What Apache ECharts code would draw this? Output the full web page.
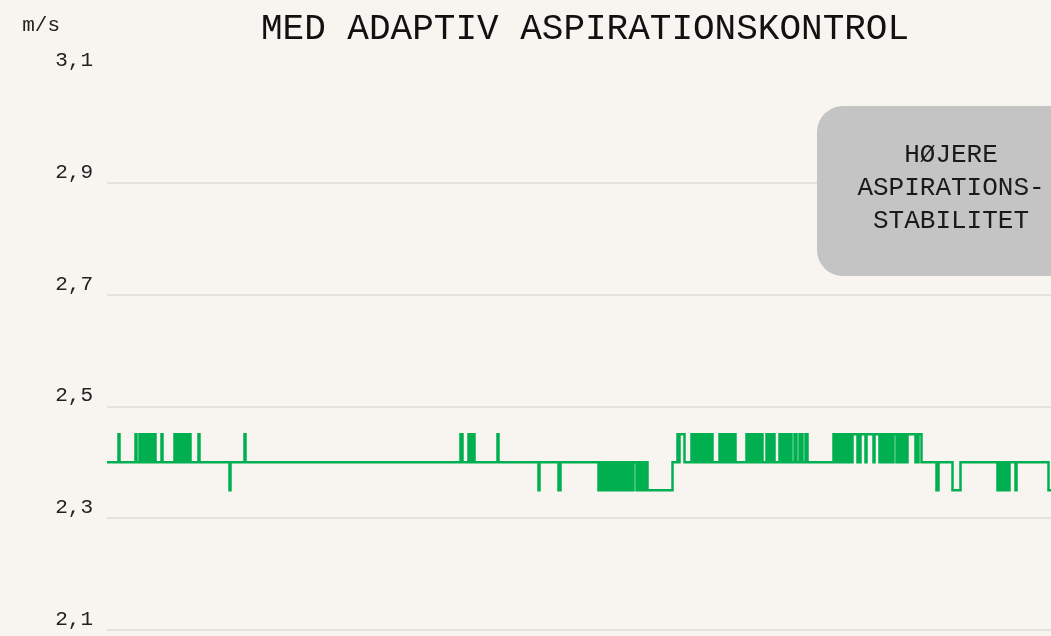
<!DOCTYPE html>
<html>
<head>
<meta charset="utf-8">
<title>Med adaptiv aspirationskontrol</title>
<script src="https://cdn.jsdelivr.net/npm/echarts@6/dist/echarts.min.js"></script>
<style>
  html, body { margin: 0; padding: 0; background: #f8f5f0; }
  #chart { width: 1051px; height: 636px; }
</style>
</head>
<body>
<div id="chart"></div>
<script>
// Aspiration air speed levels (m/s)
const B = 2.4, U = 2.45, D = 2.35;

const chartTitle = 'MED ADAPTIV ASPIRATIONSKONTROL';
const unitLabel = 'm/s';
const noteLines = ['HØJERE', 'ASPIRATIONS-', 'STABILITET'];

const yMin = 2.1, yMax = 3.1, yStep = 0.2;

// Measured air speed, one sample per step (45 samples per row)
const airSpeed = [
  B,B,B,B,B, B,B,B,B,B, B,B,U,B,B, B,B,B,B,B, B,B,B,B,B, B,B,B,B,U, B,B,B,U,B, U,B,U,B,U, B,U,B,U,B,
  U,B,U,U,B, B,B,B,B,B, U,B,B,B,B, B,B,B,B,B, B,B,B,U,B, U,B,U,B,U, B,U,B,U,B, U,B,U,U,B, B,B,B,B,B,
  B,B,U,B,B, B,B,B,B,B, B,B,B,B,B, B,B,B,B,B, B,B,B,B,B, B,B,B,B,B, B,B,B,D,B, B,B,B,B,B, B,B,B,B,B,
  B,B,B,U,B, B,B,B,B,B, B,B,B,B,B, B,B,B,B,B, B,B,B,B,B, B,B,B,B,B, B,B,B,B,B, B,B,B,B,B, B,B,B,B,B,
  B,B,B,B,B, B,B,B,B,B, B,B,B,B,B, B,B,B,B,B, B,B,B,B,B, B,B,B,B,B, B,B,B,B,B, B,B,B,B,B, B,B,B,B,B,
  B,B,B,B,B, B,B,B,B,B, B,B,B,B,B, B,B,B,B,B, B,B,B,B,B, B,B,B,B,B, B,B,B,B,B, B,B,B,B,B, B,B,B,B,B,
  B,B,B,B,B, B,B,B,B,B, B,B,B,B,B, B,B,B,B,B, B,B,B,B,B, B,B,B,B,B, B,B,B,B,B, B,B,B,B,B, B,B,B,B,B,
  B,B,B,B,B, B,B,B,B,B, B,B,B,B,B, B,B,B,B,B, B,B,B,B,B, B,B,B,B,B, B,B,B,B,B, B,B,B,B,U, U,B,B,B,B,
  B,B,U,B,U, B,U,U,B,B, B,B,B,B,B, B,B,B,B,B, B,B,B,B,B, B,B,B,B,B, B,U,B,B,B, B,B,B,B,B, B,B,B,B,B,
  B,B,B,B,B, B,B,B,B,B, B,B,B,B,B, B,B,B,B,B, B,B,B,B,B, B,B,D,B,B, B,B,B,B,B, B,B,B,B,B, B,B,B,B,B,
  B,B,D,D,B, B,B,B,B,B, B,B,B,B,B, B,B,B,B,B, B,B,B,B,B, B,B,B,B,B, B,B,B,B,B, B,B,B,B,B, B,B,D,B,D,
  B,D,B,D,B, D,B,D,B,D, B,D,B,D,B, D,B,B,D,D, B,B,D,B,D, B,D,B,D,B, B,D,B,B,B, D,B,D,B,D, B,D,B,B,D,
  B,D,D,D,D, D,D,D,D,D, D,D,D,D,D, D,D,D,D,D, D,D,D,D,D, D,B,B,B,B, B,U,B,U,U, U,U,U,B,B, B,B,B,B,B,
  U,B,U,B,U, B,U,B,U,B, U,B,U,B,U, B,B,U,B,U, U,B,B,B,B, B,B,B,U,B, U,B,U,B,U, B,U,B,U,B, U,B,U,U,B,
  B,B,B,B,B, B,B,B,B,B, U,B,U,B,U, B,U,B,U,B, U,B,U,B,U, U,B,B,B,B, U,B,B,U,B, B,U,U,B,B, B,B,B,U,B,
  U,B,U,B,U, B,U,B,U,U, B,B,B,U,U, B,B,B,U,B, U,B,B,B,U, U,B,B,B,B, B,B,B,B,B, B,B,B,B,B, B,B,B,B,B,
  B,B,B,B,B, B,B,U,B,U, B,U,B,U,B, U,B,U,B,U, B,U,B,U,U, B,U,U,U,U, U,B,U,B,U, U,U,U,U,B, U,U,U,U,U,
  U,U,B,U,U, U,U,U,B,U, B,U,U,B,U, B,U,B,U,B, U,B,U,U,U, B,U,B,U,B, U,B,U,B,U, B,U,U,U,U, U,U,U,U,B,
  U,B,U,U,U, B,B,B,B,B, B,B,B,B,B, B,B,B,B,B, D,D,B,B,B, B,B,B,B,B, B,B,B,B,B, B,D,D,D,D, D,D,D,D,B,
  B,B,B,B,B, B,B,B,B,B, B,B,B,B,B, B,B,B,B,B, B,B,B,B,B, B,B,B,B,B, B,B,B,B,B, B,D,D,B,D, D,B,B,D,B,
  D,B,D,B,B, B,B,B,B,D, B,B,B,B,B, B,B,B,B,B, B,B,B,B,B, B,B,B,B,B, B,B,B,B,B, B,B,B,B,B, B,B,D,D,D
];

const monoFont = "'Courier New', 'Nimbus Mono PS', 'FreeMono', 'Liberation Mono', monospace";

// Step trace: each sample holds its level for half a step on either side,
// so every change of level is drawn as a vertical edge.
function renderStepTrace(params, api) {
  if (params.dataIndex !== 0) return null;
  const n = airSpeed.length;
  const half = (api.coord([1, airSpeed[0]])[0] - api.coord([0, airSpeed[0]])[0]) / 2;
  const points = [];
  for (let i = 0; i < n; i++) {
    const p = api.coord([i, airSpeed[i]]);
    const xl = i === 0 ? p[0] : p[0] - half;
    const xr = i === n - 1 ? p[0] : p[0] + half;
    points.push([xl, p[1]], [xr, p[1]]);
  }
  return {
    type: 'polyline',
    shape: { points },
    style: {
      fill: null,
      stroke: '#00b050',
      lineWidth: 2.5,
      lineJoin: 'miter',
      lineCap: 'butt'
    }
  };
}

const chart = echarts.init(document.getElementById('chart'), null, { renderer: 'canvas' });

chart.setOption({
  backgroundColor: '#f8f5f0',
  animation: false,
  title: {
    text: chartTitle,
    left: 580,
    top: 6,
    textAlign: 'center',
    textStyle: { fontFamily: monoFont, fontSize: 36, fontWeight: 'normal', color: '#111' }
  },
  grid: { left: 107, right: 0, top: 71, bottom: 6, containLabel: false },
  xAxis: {
    type: 'value',
    min: 0,
    max: airSpeed.length - 1,
    axisLine: { show: false },
    axisTick: { show: false },
    axisLabel: { show: false },
    splitLine: { show: false }
  },
  yAxis: {
    type: 'value',
    min: yMin,
    max: yMax,
    interval: yStep,
    name: unitLabel,
    nameLocation: 'end',
    nameGap: 46,
    nameTextStyle: {
      fontFamily: monoFont, fontSize: 21, color: '#222',
      align: 'right', verticalAlign: 'middle', padding: [0, 47, 0, 0]
    },
    axisLine: { show: false },
    axisTick: { show: false },
    axisLabel: {
      margin: 14,
      verticalAlign: 'bottom',
      fontFamily: monoFont, fontSize: 21, color: '#222',
      formatter: v => v.toFixed(1).replace('.', ',')
    },
    splitLine: { show: true, showMaxLine: false, lineStyle: { color: '#dedbd6', width: 1.5 } }
  },
  series: [{
    type: 'custom',
    name: 'Lufthastighed',
    data: airSpeed.map((v, i) => [i, v]),
    renderItem: renderStepTrace,
    clip: true,
    silent: true
  }],
  graphic: [{
    type: 'group',
    left: 817,
    top: 106,
    z: 100,
    children: [{
      type: 'rect',
      z: 100,
      shape: { x: 0, y: 0, width: 268, height: 170, r: 26 },
      style: { fill: '#c4c4c4' }
    }, {
      type: 'text',
      z: 101,
      x: 134,
      y: 82,
      style: {
        text: noteLines.join('\n'),
        fontFamily: monoFont,
        fontSize: 26,
        lineHeight: 33,
        fill: '#1a1a1a',
        align: 'center',
        verticalAlign: 'middle'
      }
    }]
  }]
});
</script>
</body>
</html>
